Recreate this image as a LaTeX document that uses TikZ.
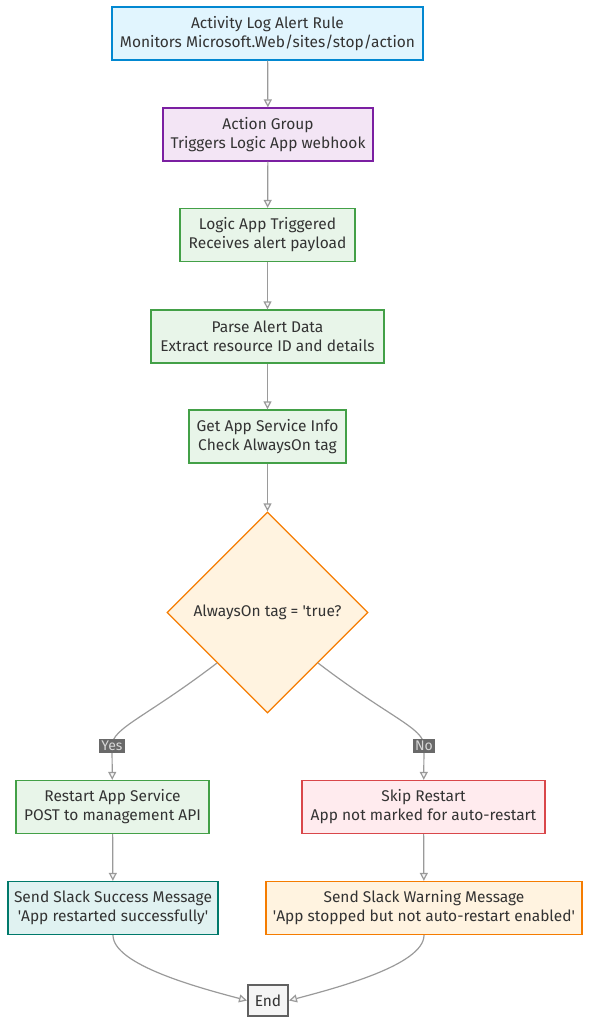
\documentclass[tikz,border=0pt]{standalone}
\usepackage{fontspec}
\setmainfont{Fira Sans}
\usepackage{xcolor}
\usetikzlibrary{arrows.meta, positioning, shapes.geometric}
\definecolor{kblue}{HTML}{0288D1}
\definecolor{kbluefill}{HTML}{E1F5FE}
\definecolor{kpurple}{HTML}{7B1FA2}
\definecolor{kpurplefill}{HTML}{F3E5F5}
\definecolor{kgreen}{HTML}{43A047}
\definecolor{kgreenfill}{HTML}{E8F5E9}
\definecolor{korange}{HTML}{F57C00}
\definecolor{korangefill}{HTML}{FFF3E0}
\definecolor{kred}{HTML}{D9474A}
\definecolor{kredfill}{HTML}{FFEBEE}
\definecolor{kteal}{HTML}{00796B}
\definecolor{ktealfill}{HTML}{E0F2F1}
\definecolor{kgray}{HTML}{616161}
\definecolor{kgrayfill}{HTML}{F5F5F5}
\definecolor{ktext}{HTML}{333333}
\definecolor{kedge}{HTML}{9A9A9A}

\newcommand{\sq}{\textquotesingle}

\tikzset{
  stepbox/.style={draw, rectangle, align=center, inner sep=0pt, line width=1.3pt,
    minimum height=53pt, text=ktext, font=\fontsize{15.5}{19}\selectfont},
  decbox/.style={draw=korange, fill=korangefill, diamond, aspect=1, inner sep=0pt,
    line width=1.3pt, minimum width=201pt, minimum height=201pt, text=ktext,
    font=\fontsize{15.5}{19}\selectfont},
  flow/.style={draw=kedge, line width=1.2pt,
    -{Triangle[open, length=8pt, width=8pt, fill=kgrayfill]}},
  lbl/.style={fill=kgray!95, text=kgrayfill!80!kgray, inner sep=2pt,
    font=\fontsize{14}{16}\selectfont}
}

\begin{document}
\begin{tikzpicture}[x=1pt, y=-1pt]
  \useasboundingbox (0,0) rectangle (589,1024);

  %% main chain
  \node[stepbox, draw=kblue, fill=kbluefill, minimum width=311pt] (rule) at (267.5,33.5)
    {Activity Log Alert Rule\\Monitors Microsoft.Web/sites/stop/action};
  \node[stepbox, draw=kpurple, fill=kpurplefill, minimum width=210pt] (group) at (268,134.5)
    {Action Group\\Triggers Logic App webhook};
  \node[stepbox, draw=kgreen, fill=kgreenfill, minimum width=175pt] (trig) at (267.5,235)
    {Logic App Triggered\\Receives alert payload};
  \node[stepbox, draw=kgreen, fill=kgreenfill, minimum width=233pt] (parse) at (267.5,336.5)
    {Parse Alert Data\\Extract resource ID and details};
  \node[stepbox, draw=kgreen, fill=kgreenfill, minimum width=157pt] (info) at (267.5,436.5)
    {Get App Service Info\\Check AlwaysOn tag};
  \node[decbox] (tag) at (267.5,612.5) {AlwaysOn tag = \sq true?};

  %% branches
  \node[stepbox, draw=kgreen, fill=kgreenfill, minimum width=193pt] (restart) at (112.5,807)
    {Restart App Service\\POST to management API};
  \node[stepbox, draw=kred, fill=kredfill, minimum width=243pt] (skip) at (423.5,807)
    {Skip Restart\\App not marked for auto-restart};
  \node[stepbox, draw=kteal, fill=ktealfill, minimum width=210pt] (okmsg) at (113,908)
    {Send Slack Success Message\\\sq App restarted successfully\sq};
  \node[stepbox, draw=korange, fill=korangefill, minimum width=316pt] (warnmsg) at (424,908)
    {Send Slack Warning Message\\\sq App stopped but not auto-restart enabled\sq};
  \node[stepbox, draw=kgray, fill=kgrayfill, line width=2pt, minimum width=40pt,
    minimum height=31pt] (end) at (268,1000.5) {End};

  \coordinate (yesbend) at (112,746);
  \coordinate (nobend) at (424,746);

  %% connectors
  \draw[flow] (rule) -- (group);
  \draw[flow] (group) -- (trig);
  \draw[flow] (trig) -- (parse);
  \draw[flow] (parse) -- (info);
  \draw[flow] (info) -- (tag);
  \draw[flow] (tag.south west) .. controls (145,718) and (112,728) .. (yesbend) -- (restart);
  \draw[flow] (tag.south east) .. controls (390,718) and (424,728) .. (nobend) -- (skip);
  \draw[flow] (restart) -- (okmsg);
  \draw[flow] (skip) -- (warnmsg);
  \draw[flow] (okmsg.south) .. controls (113,965) and (200,988) .. (end.west);
  \draw[flow] (warnmsg.south) .. controls (424,965) and (336,988) .. (end.east);

  %% branch labels
  \node[lbl] (yes) at (yesbend) {Yes};
  \node[lbl] (no) at (nobend) {No};

\end{tikzpicture}
\end{document}
